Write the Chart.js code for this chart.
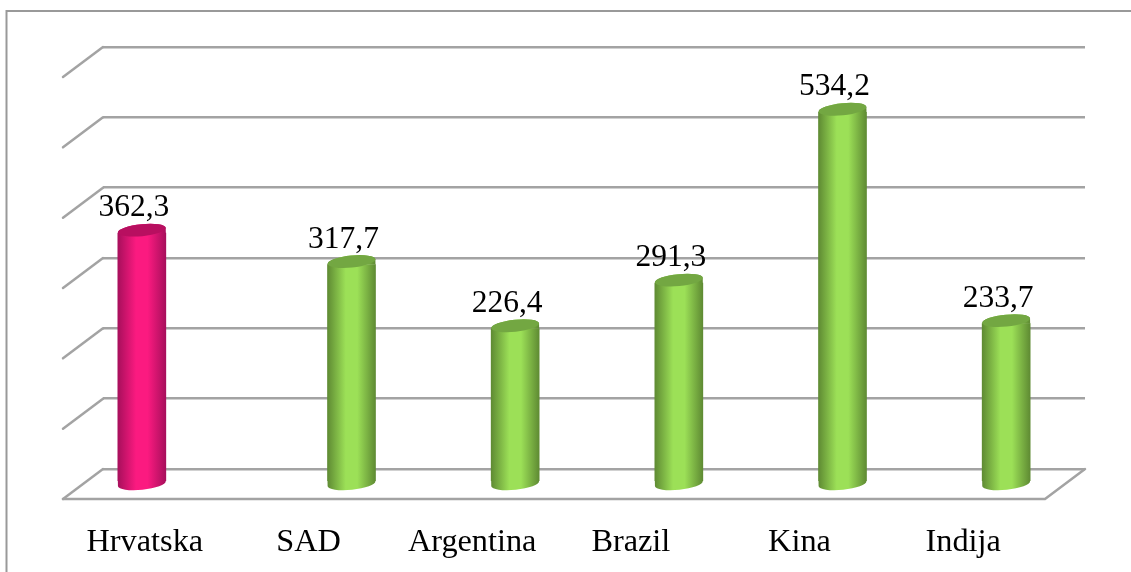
<!DOCTYPE html>
<html>
<head>
<meta charset="utf-8">
<title>Grafikon</title>
<script src="https://cdn.jsdelivr.net/npm/chart.js@4/dist/chart.umd.js"></script>
<style>
    html, body { margin: 0; padding: 0; background: #fff; overflow: hidden; }
    canvas { display: block; }
</style>
</head>
<body>
<canvas id="grafikon" width="1131" height="572"></canvas>
<script>
const zemlje = ['Hrvatska', 'SAD', 'Argentina', 'Brazil', 'Kina', 'Indija'];
const vrijednosti = [362.3, 317.7, 226.4, 291.3, 534.2, 233.7];
const oznakeY = [0, 100, 200, 300, 400, 500, 600];

// the fake 3D floor: how far the front edge sits from the back wall
const dubinaX = -40;
const dubinaY = 30;
// bars stand in the middle of the floor
const stupacX = 3;
const stupacY = 16;
// Hrvatska was moved left by hand in the original, Brazil's label too
const pomakStupca = [-46, 0, 0, 0, 0, 0];
const pomakNatpisa = [0, 0, 0, -5, 0, 0];
const pomakOznake = -8;
// cylinder caps
const kapaRy = 6;
const nagib = -0.1;
const uvlaka = 3;

const sivo = '#a3a3a3';

function boja(i) {
    return i === 0
        ? { rub: '#a80f5c', sredina: '#fb1a80', vrh: '#b80f60' }
        : { rub: '#5f8b33', sredina: '#9ce057', vrh: '#73a742' };
}

function gradijent(c, x, sirina, i) {
    const b = boja(i);
    const g = c.createLinearGradient(x - sirina / 2, 0, x + sirina / 2, 0);
    g.addColorStop(0, b.rub);
    g.addColorStop(0.38, b.sredina);
    g.addColorStop(0.62, b.sredina);
    g.addColorStop(1, b.rub);
    return g;
}

const prostor3d = {
    id: 'prostor3d',
    beforeDraw(chart) {
        const c = chart.ctx;
        c.save();
        c.strokeStyle = '#999';
        c.lineWidth = 2;
        c.beginPath();
        c.moveTo(6.5, chart.height);
        c.lineTo(6.5, 11);
        c.lineTo(chart.width, 11);
        c.stroke();
        c.restore();
    },
    afterDatasetsUpdate(chart) {
        chart.getDatasetMeta(0).data.forEach((bar, i) => {
            bar.x += stupacX + pomakStupca[i];
            // library rect stops short of the caps, they are filled in afterDatasetsDraw
            bar.y += stupacY + uvlaka;
            bar.base += stupacY - uvlaka;
        });
        chart.scales.x.getLabelItems().forEach((item, i) => {
            item.options.translation[0] += pomakNatpisa[i];
        });
    },
    beforeDatasetsDraw(chart) {
        const c = chart.ctx;
        const { left, right } = chart.chartArea;
        const y = chart.scales.y;
        c.save();
        c.strokeStyle = sivo;
        c.lineWidth = 2.5;
        c.lineCap = 'round';
        oznakeY.forEach(v => {
            const p = y.getPixelForValue(v);
            c.beginPath();
            c.moveTo(left, p);
            c.lineTo(left + dubinaX, p + dubinaY);
            c.stroke();
        });
        const dno = y.getPixelForValue(0);
        c.beginPath();
        c.moveTo(left + dubinaX, dno + dubinaY);
        c.lineTo(right + dubinaX, dno + dubinaY);
        c.lineTo(right, dno);
        c.stroke();
        c.restore();
    },
    afterDatasetsDraw(chart) {
        const c = chart.ctx;
        chart.getDatasetMeta(0).data.forEach((bar, i) => {
            const r = bar.width / 2;
            const vrh = bar.y - uvlaka;
            const dno = bar.base + uvlaka;
            c.save();
            c.fillStyle = gradijent(c, bar.x, bar.width, i);
            // bottom cap
            c.beginPath();
            c.ellipse(bar.x, dno, r, kapaRy, nagib, Math.PI, 0, true);
            c.lineTo(bar.x + r, bar.base);
            c.lineTo(bar.x - r, bar.base);
            c.closePath();
            c.fill();
            // shoulder under the top cap
            c.beginPath();
            c.ellipse(bar.x, vrh, r, kapaRy, nagib, Math.PI, 0, false);
            c.lineTo(bar.x + r, bar.y);
            c.lineTo(bar.x - r, bar.y);
            c.closePath();
            c.fill();
            c.fillStyle = boja(i).vrh;
            c.beginPath();
            c.ellipse(bar.x, vrh, r, kapaRy, nagib, 0, Math.PI * 2);
            c.fill();
            c.fillStyle = '#000';
            c.font = '31.5px "Liberation Serif"';
            c.textAlign = 'center';
            c.textBaseline = 'alphabetic';
            c.fillText(String(vrijednosti[i]).replace('.', ','), bar.x + pomakOznake, vrh - 14);
            c.restore();
        });
    }
};

new Chart(document.getElementById('grafikon'), {
    type: 'bar',
    data: {
        labels: zemlje,
        datasets: [{
            data: vrijednosti,
            barThickness: 48,
            borderWidth: 0,
            clip: false,
            backgroundColor: (ctx) => {
                if (ctx.dataIndex === undefined) return '#9ce057';
                const x = ctx.chart.scales.x.getPixelForTick(ctx.dataIndex) + stupacX + pomakStupca[ctx.dataIndex];
                return gradijent(ctx.chart.ctx, x, 48, ctx.dataIndex);
            }
        }]
    },
    options: {
        responsive: false,
        animation: false,
        events: [],
        layout: { padding: { left: 103, right: 46, top: 47, bottom: 0 } },
        plugins: { legend: { display: false }, title: { display: false }, tooltip: { enabled: false } },
        scales: {
            x: {
                grid: { display: false },
                border: { display: false },
                afterFit(scale) { scale.height = 103; },
                ticks: {
                    color: '#000',
                    font: { family: '"Liberation Serif"', size: 32.3 },
                    padding: 46,
                    labelOffset: dubinaX,
                    maxRotation: 0,
                    autoSkip: false
                }
            },
            y: {
                min: 0,
                max: 600,
                afterFit(scale) { scale.width = 0; },
                ticks: { display: false, stepSize: 100 },
                border: { display: false },
                grid: { color: sivo, lineWidth: 2.5, drawTicks: false }
            }
        }
    },
    plugins: [prostor3d]
});
</script>
</body>
</html>
